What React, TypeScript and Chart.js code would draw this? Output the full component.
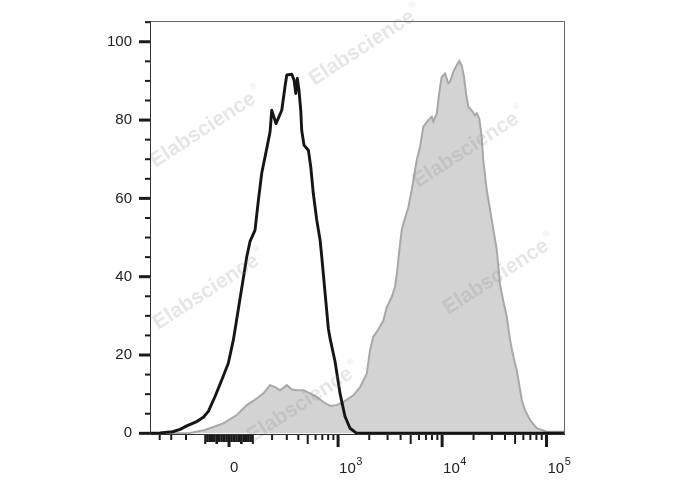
import React, { useEffect, useRef } from 'react';
import { Chart, registerables } from 'chart.js';

Chart.register(...registerables);

// ---------- data (x in biexponential display units, "decades"; y in % of max) ----------
const isotypeX = [-0.757, -0.661, -0.54, -0.469, -0.405, -0.309, -0.246, -0.198, -0.134, -0.07, -0.007, 0.041, 0.057, 0.17, 0.201, 0.249, 0.281, 0.313, 0.361, 0.393, 0.409, 0.45, 0.505, 0.536, 0.553, 0.601, 0.623, 0.639, 0.654, 0.67, 0.687, 0.696, 0.718, 0.76, 0.783, 0.807, 0.84, 0.872, 0.888, 0.951, 0.967, 1.015, 1.063, 1.111, 1.159, 1.223, 1.286, 3.218];
const isotypeY = [0, 0.1, 0.4, 1.0, 1.9, 3.0, 4.1, 5.6, 9.4, 13.6, 17.9, 23.8, 26.4, 45.1, 49.0, 51.9, 59.5, 66.4, 72.7, 77.0, 82.5, 79.1, 82.5, 88.5, 91.5, 91.7, 90.2, 86.8, 90.6, 87.6, 82.5, 77.4, 73.6, 72.3, 68.0, 61.3, 54.5, 49.4, 45.1, 26.8, 24.3, 18.4, 10.2, 4.3, 1.3, 0, 0, 0];

const stainedX = [-0.757, -0.536, -0.374, -0.23, -0.055, 0.074, 0.17, 0.265, 0.329, 0.393, 0.441, 0.489, 0.553, 0.601, 0.648, 0.712, 0.776, 0.84, 0.904, 0.967, 1.031, 1.095, 1.191, 1.255, 1.319, 1.351, 1.382, 1.43, 1.478, 1.51, 1.558, 1.59, 1.612, 1.631, 1.654, 1.67, 1.718, 1.75, 1.798, 1.83, 1.861, 1.909, 1.942, 1.957, 1.99, 2.005, 2.021, 2.037, 2.069, 2.1, 2.117, 2.148, 2.18, 2.205, 2.228, 2.251, 2.27, 2.292, 2.324, 2.356, 2.372, 2.397, 2.42, 2.435, 2.468, 2.5, 2.532, 2.564, 2.596, 2.628, 2.66, 2.692, 2.724, 2.756, 2.804, 2.835, 2.883, 2.947, 3.043, 3.218];
const stainedY = [0, 0, 0.1, 0.84, 2.55, 4.67, 7.2, 8.9, 10.2, 12.3, 11.8, 11.0, 12.3, 11.2, 11.0, 11.0, 10.2, 9.3, 8.0, 7.0, 7.2, 8.0, 9.7, 11.8, 15.2, 21.3, 24.7, 26.5, 28.8, 32.2, 34.8, 37.4, 41.7, 46.8, 51.9, 53.6, 57.8, 62.2, 69.8, 73.2, 78.3, 80.0, 80.9, 79.6, 81.7, 85.1, 88.5, 91.0, 91.9, 89.4, 89.8, 92.3, 94.0, 95.1, 94.0, 91.0, 86.8, 83.4, 82.5, 81.2, 81.7, 80.4, 75.7, 69.8, 62.2, 57.1, 52.0, 46.9, 37.9, 33.7, 29.8, 23.8, 19.5, 16.1, 8.5, 5.9, 3.4, 1.3, 0.4, 0.4];

// axis definitions
const X_MIN = -0.757;
const X_MAX = 3.218;
const Y_MIN = -0.43;
const Y_MAX = 105.3;
const yLabelValues = [0, 20, 40, 60, 80, 100];
const yMinorStep = 5;
const xMajorValues = [0, 1e3, 1e4, 1e5];
const xDecadeExponents = [1, 2, 3, 4];
const BIEX_WIDTH = 182;

const toDisplay = (v: number) => Math.asinh(v / BIEX_WIDTH) / Math.LN10;

const WATERMARKS = [
  { x: 362, y: 48 },
  { x: 203, y: 130 },
  { x: 466, y: 150 },
  { x: 206, y: 292 },
  { x: 496, y: 277 },
  { x: 300, y: 405 },
];

const FONT = '"Liberation Sans", Arial, sans-serif';

const flowAxesPlugin = {
  id: 'flowAxes',
  afterDatasetsDraw(chart: any) {
    const { ctx } = chart;
    ctx.save();
    for (const w of WATERMARKS) {
      ctx.save();
      ctx.translate(w.x, w.y);
      ctx.rotate((-33 * Math.PI) / 180);
      ctx.fillStyle = 'rgba(140,140,140,0.22)';
      ctx.font = `bold 21px ${FONT}`;
      ctx.textAlign = 'center';
      ctx.textBaseline = 'middle';
      ctx.fillText('Elabscience', 0, 0);
      const tw = ctx.measureText('Elabscience').width;
      ctx.font = `9px ${FONT}`;
      ctx.textAlign = 'left';
      ctx.fillText('®', tw / 2 + 2, -9);
      ctx.restore();
    }
    ctx.restore();
  },
  afterDraw(chart: any) {
    const { ctx, chartArea: a } = chart;
    const xs = chart.scales.x;
    const ys = chart.scales.y;
    ctx.save();
    // frame
    ctx.lineWidth = 1;
    ctx.strokeStyle = '#666';
    ctx.beginPath();
    ctx.moveTo(a.left + 0.5, a.top + 0.5);
    ctx.lineTo(a.right - 0.5, a.top + 0.5);
    ctx.lineTo(a.right - 0.5, a.bottom - 0.5);
    ctx.stroke();
    ctx.strokeStyle = '#333';
    ctx.beginPath();
    ctx.moveTo(a.left + 0.5, a.top);
    ctx.lineTo(a.left + 0.5, a.bottom - 0.5);
    ctx.lineTo(a.right, a.bottom - 0.5);
    ctx.stroke();

    // y ticks
    ctx.strokeStyle = '#1a1a1a';
    for (let v = 0; v <= Y_MAX; v += yMinorStep) {
      const py = ys.getPixelForValue(v);
      const major = yLabelValues.includes(v);
      ctx.lineWidth = major ? 3 : 2;
      ctx.beginPath();
      ctx.moveTo(a.left - (major ? 11 : 5), py);
      ctx.lineTo(a.left, py);
      ctx.stroke();
    }

    // x ticks
    const ticks: { v: number; len: number; w: number }[] = [];
    for (const v of xMajorValues) ticks.push({ v, len: 12, w: 3 });
    for (const n of xDecadeExponents) {
      for (let k = 1; k <= 9; k++) {
        const val = k * Math.pow(10, n);
        const medium = k === 5 || (n === 2 && k === 1);
        for (const s of [1, -1]) {
          const vv = s * val;
          if (xMajorValues.includes(vv)) continue;
          ticks.push({ v: vv, len: medium ? 9 : n === 1 ? 7 : 5, w: n === 1 ? 2.6 : 2 });
        }
      }
    }
    for (const t of ticks) {
      const u = toDisplay(t.v);
      if (u < X_MIN + 0.02 || u > X_MAX) continue;
      const px = xs.getPixelForValue(u);
      ctx.lineWidth = t.w;
      ctx.beginPath();
      ctx.moveTo(px, a.bottom);
      ctx.lineTo(px, a.bottom + t.len);
      ctx.stroke();
    }

    // x labels
    ctx.fillStyle = '#222';
    ctx.textBaseline = 'alphabetic';
    ctx.textAlign = 'left';
    for (const v of xMajorValues) {
      const px = xs.getPixelForValue(toDisplay(v));
      ctx.font = `15px ${FONT}`;
      if (v === 0) {
        ctx.fillText('0', px + 1, 472);
      } else {
        ctx.fillText('10', px + 1, 473);
        const w = ctx.measureText('10').width;
        ctx.font = `11px ${FONT}`;
        ctx.fillText(String(Math.round(Math.log10(v))), px + 1 + w + 0.5, 465);
      }
    }
    ctx.restore();
  },
};

export default function App() {
  const ref = useRef<HTMLCanvasElement | null>(null);

  useEffect(() => {
    if (!ref.current) return;
    const isotypeData = isotypeX.map((x, i) => ({ x, y: isotypeY[i] }));
    const stainedData = stainedX.map((x, i) => ({ x, y: stainedY[i] }));
    const yTickValues: number[] = [];
    for (let v = 0; v <= Y_MAX; v += yMinorStep) yTickValues.push(v);

    const chart = new Chart(ref.current, {
      type: 'line',
      data: {
        datasets: [
          {
            label: 'Isotype control',
            data: isotypeData,
            borderColor: '#151515',
            borderWidth: 2.9,
            borderJoinStyle: 'round',
            pointRadius: 0,
            fill: false,
            tension: 0,
            order: 0,
          },
          {
            label: 'Stained',
            data: stainedData,
            borderColor: '#a8a8a8',
            backgroundColor: '#d3d3d3',
            borderWidth: 2,
            pointRadius: 0,
            fill: 'origin',
            tension: 0,
            order: 1,
          },
        ],
      },
      options: {
        responsive: false,
        animation: false,
        layout: { padding: { top: 21, right: 123, left: 0, bottom: 0 } },
        plugins: { legend: { display: false }, tooltip: { enabled: false } },
        scales: {
          x: {
            type: 'linear',
            min: X_MIN,
            max: X_MAX,
            ticks: { display: false },
            grid: { display: false },
            border: { display: false },
            afterFit: (s: any) => {
              s.height = 55;
            },
          },
          y: {
            type: 'linear',
            min: Y_MIN,
            max: Y_MAX,
            afterBuildTicks: (s: any) => {
              s.ticks = yTickValues.map((value) => ({ value }));
            },
            ticks: {
              autoSkip: false,
              padding: 7,
              color: '#222',
              font: { family: FONT, size: 15 },
              callback: (v: any) => (yLabelValues.includes(Number(v)) ? String(v) : ''),
            },
            grid: {
              display: true,
              drawOnChartArea: false,
              drawTicks: true,
              tickLength: 11,
              tickColor: 'rgba(0,0,0,0)',
            },
            border: { display: false },
            afterFit: (s: any) => {
              s.width = 150;
            },
          },
        },
      } as any,
      plugins: [flowAxesPlugin],
    });
    return () => chart.destroy();
  }, []);

  return (
    <div style={{ position: 'fixed', left: 0, top: 0, width: 688, height: 490, background: '#fff' }}>
      <canvas ref={ref} width={688} height={490} style={{ display: 'block' }} />
    </div>
  );
}
